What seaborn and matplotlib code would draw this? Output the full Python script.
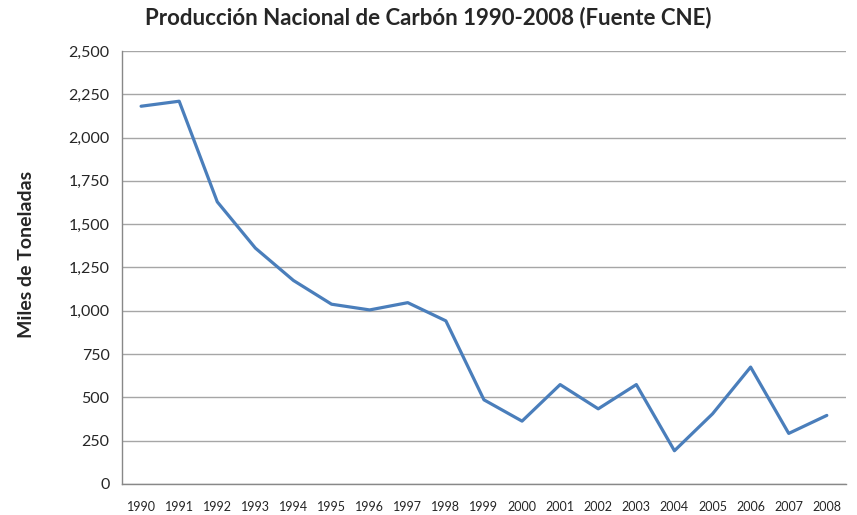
import pandas as pd
import matplotlib.pyplot as plt
import matplotlib.ticker as mticker
import seaborn as sns

# Producción nacional de carbón (miles de toneladas)
years = [str(y) for y in range(1990, 2009)]
produccion = [2181, 2210, 1629, 1362, 1175, 1038, 1005, 1047, 942, 486,
              363, 574, 434, 574, 192, 405, 675, 292, 396]
y_ticks = [0, 250, 500, 750, 1000, 1250, 1500, 1750, 2000, 2250, 2500]

df = pd.DataFrame({'Year': years, 'Produccion': produccion})

sns.set_style('white')
plt.rcParams['font.family'] = ['Lato', 'DejaVu Sans']

fig = plt.figure(figsize=(8.57, 5.15), dpi=100)
ax = fig.add_axes([0.1424, 0.0602, 0.8446, 0.8408])

sns.lineplot(data=df, x='Year', y='Produccion', ax=ax, color='#4A7EBB',
             linewidth=2.3, sort=False)

ax.set_xlim(-0.5, len(years) - 0.5)
ax.set_ylim(0, 2500)
ax.set_yticks(y_ticks)
ax.yaxis.set_major_formatter(mticker.FuncFormatter(lambda v, p: f'{int(v):,}'))
ax.grid(axis='y', color='#a6a6a6', linewidth=1.0)
ax.set_axisbelow(True)

# Excel-style ticks: marks between categories, labels centred
ax.set_xticks(range(len(years)))
ax.set_xticklabels(years, fontsize=9)
ax.set_xticks([i - 0.5 for i in range(len(years) + 1)], minor=True)
ax.tick_params(axis='x', which='major', length=0, pad=12)
ax.tick_params(axis='x', which='minor', length=5, color='#888888', direction='out')
ax.tick_params(axis='y', length=5, color='#888888', direction='out',
               labelsize=11.5, pad=4)

for side in ['top', 'right']:
    ax.spines[side].set_visible(False)
for side in ['left', 'bottom']:
    ax.spines[side].set_color('#888888')
    ax.spines[side].set_linewidth(1.0)

ax.set_xlabel('')
ax.set_ylabel('Miles de Toneladas', fontsize=14, fontweight='bold')
ax.yaxis.set_label_coords(-0.12, 0.53)
fig.suptitle('Producción Nacional de Carbón 1990-2008 (Fuente CNE)',
             fontsize=16, fontweight='bold', x=0.5, y=0.988)

fig.savefig('out.png', dpi=100)
